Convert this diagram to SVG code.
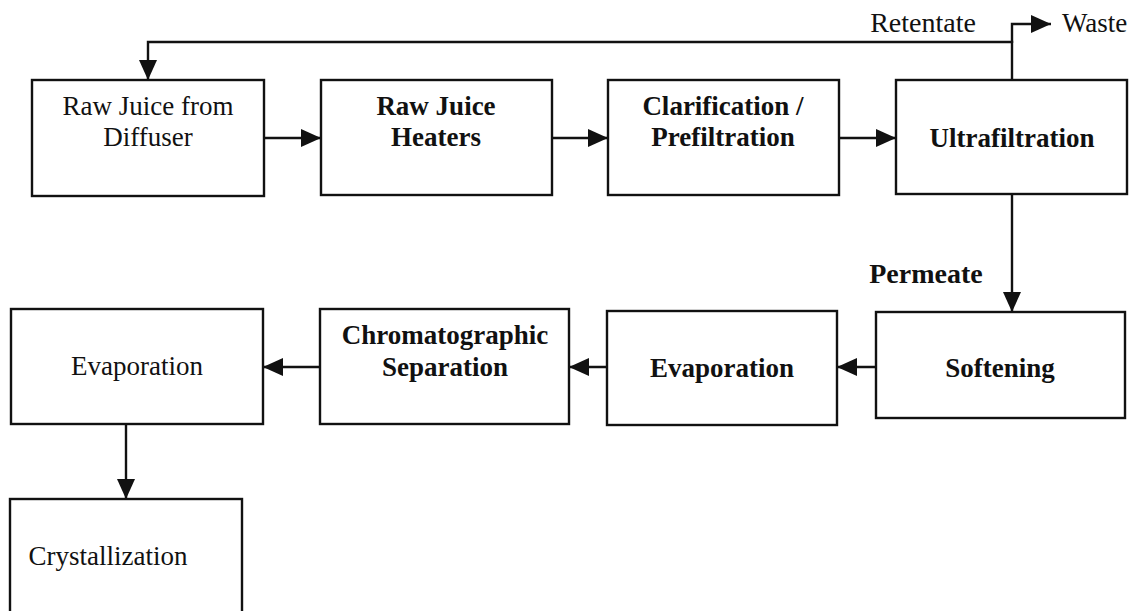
<svg xmlns="http://www.w3.org/2000/svg" width="1138" height="611" viewBox="0 0 1138 611">
<style>
.box{fill:#fff;stroke:#111;stroke-width:2.4}
.t{font-family:"Liberation Serif","Times New Roman",serif;font-size:27px;fill:#111;text-anchor:middle}
.b{font-weight:bold}
.ln{fill:none;stroke:#111;stroke-width:2.4}
</style>
<defs>
<marker id="ah" viewBox="0 0 20 18" refX="20" refY="9" markerWidth="20" markerHeight="18" markerUnits="userSpaceOnUse" orient="auto">
<path d="M0,0 L20,9 L0,18 Z" fill="#111"/>
</marker>
</defs>
<rect width="1138" height="611" fill="#fff"/>
<g id="connectors">
<polyline class="ln" points="1012,80 1012,42 148,42 148,80" marker-end="url(#ah)"/>
<polyline class="ln" points="1012,43 1012,24 1051,24" marker-end="url(#ah)"/>
<line class="ln" x1="264" y1="138" x2="321" y2="138" marker-end="url(#ah)"/>
<line class="ln" x1="552" y1="138" x2="608" y2="138" marker-end="url(#ah)"/>
<line class="ln" x1="839" y1="138" x2="896" y2="138" marker-end="url(#ah)"/>
<line class="ln" x1="1012" y1="194" x2="1012" y2="312" marker-end="url(#ah)"/>
<line class="ln" x1="876" y1="367" x2="837" y2="367" marker-end="url(#ah)"/>
<line class="ln" x1="607" y1="367" x2="569" y2="367" marker-end="url(#ah)"/>
<line class="ln" x1="320" y1="367" x2="263" y2="367" marker-end="url(#ah)"/>
<line class="ln" x1="126" y1="424" x2="126" y2="499" marker-end="url(#ah)"/>
<text class="t" x="923" y="32" style="font-size:28px">Retentate</text>
<text class="t" x="1062" y="32" style="text-anchor:start">Waste</text>
<text class="t b" x="926" y="283" style="font-size:28px">Permeate</text>
</g>
<g id="n1"><rect class="box" x="32" y="80" width="232" height="116"/><text class="t" x="148" y="115">Raw Juice from</text><text class="t" x="148" y="146">Diffuser</text></g>
<g id="n2"><rect class="box" x="321" y="80" width="231" height="115"/><text class="t b" x="436" y="115">Raw Juice</text><text class="t b" x="436" y="146">Heaters</text></g>
<g id="n3"><rect class="box" x="608" y="80" width="231" height="115"/><text class="t b" x="723" y="115">Clarification /</text><text class="t b" x="723" y="146">Prefiltration</text></g>
<g id="n4"><rect class="box" x="896" y="80" width="231" height="114"/><text class="t b" x="1012" y="147">Ultrafiltration</text></g>
<g id="n5"><rect class="box" x="876" y="312" width="249" height="106"/><text class="t b" x="1000" y="377">Softening</text></g>
<g id="n6"><rect class="box" x="607" y="311" width="230" height="114"/><text class="t b" x="722" y="377">Evaporation</text></g>
<g id="n7"><rect class="box" x="320" y="309" width="249" height="115"/><text class="t b" x="445" y="344">Chromatographic</text><text class="t b" x="445" y="376">Separation</text></g>
<g id="n8"><rect class="box" x="11" y="309" width="252" height="115"/><text class="t" x="137" y="375">Evaporation</text></g>
<g id="n9"><rect class="box" x="10" y="499" width="232" height="130"/><text class="t" x="108" y="565">Crystallization</text></g>
</svg>
